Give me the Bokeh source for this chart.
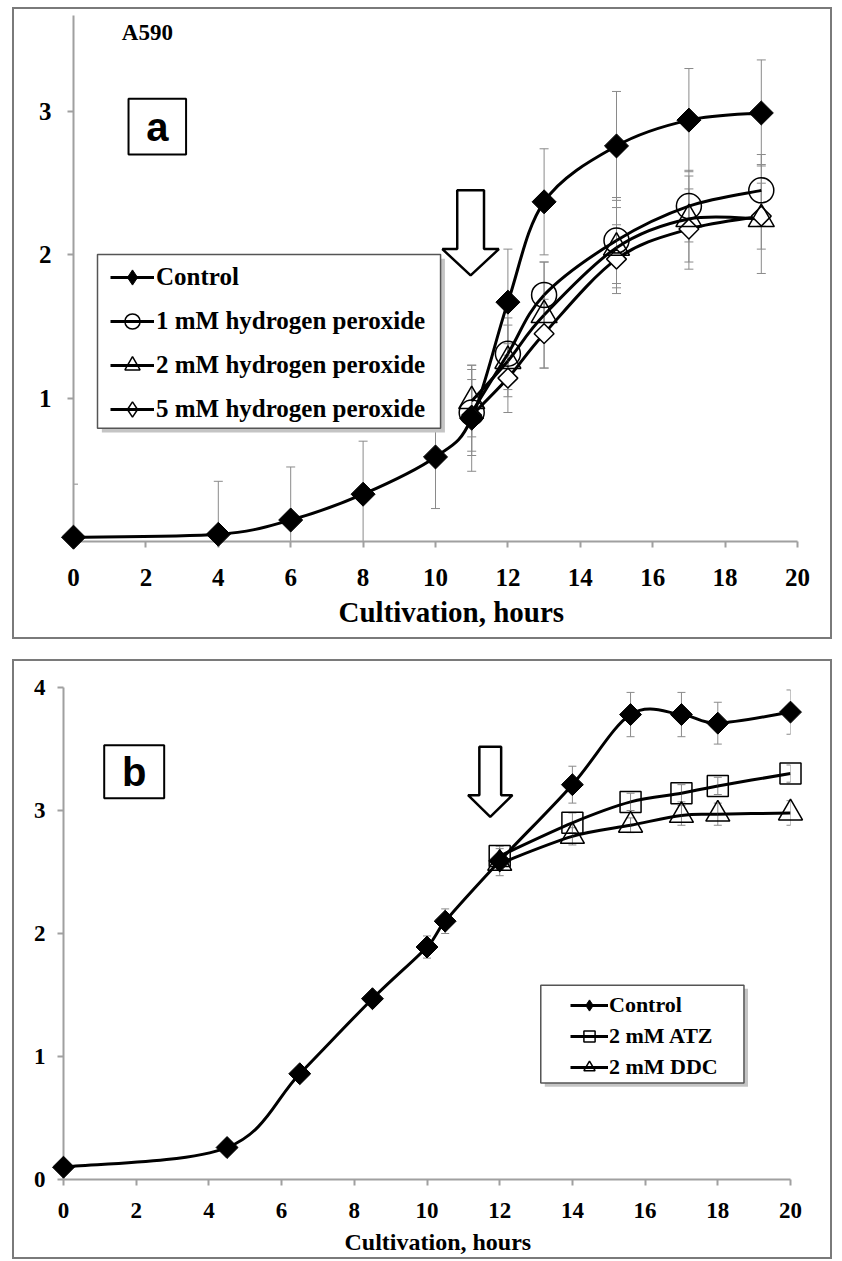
import numpy as np
from bokeh.plotting import figure
from bokeh.models import (Range1d, FixedTicker, Whisker, TeeHead, ColumnDataSource, Title,
                          Legend, LegendItem, BoxAnnotation, Label, PolyAnnotation)
from bokeh.embed import file_html
from bokeh.resources import INLINE

# ---------------- Panel a data ----------------
a_ctrl_x = [0, 4, 6, 8, 10, 11, 12, 13, 15, 17, 19]
a_ctrl_y = [0.03, 0.05, 0.15, 0.33, 0.59, 0.86, 1.67, 2.37, 2.76, 2.94, 2.99]
a_ctrl_err = [0.37, 0.37, 0.37, 0.37, 0.36, 0.37, 0.37, 0.37, 0.38, 0.36, 0.37]
a_trt_x = [11, 12, 13, 15, 17, 19]
a_1mm_y = [0.90, 1.31, 1.72, 2.10, 2.34, 2.45]
a_1mm_err = [0.30, 0.25, 0.23, 0.30, 0.25, 0.25]
a_2mm_y = [0.98, 1.26, 1.58, 2.05, 2.25, 2.25]
a_2mm_err = [0.25, 0.25, 0.37, 0.28, 0.30, 0.38]
a_5mm_y = [0.88, 1.14, 1.45, 1.97, 2.18, 2.27]
a_5mm_err = [0.25, 0.24, 0.24, 0.24, 0.28, 0.23]
a_labels = ["Control", "1 mM hydrogen peroxide", "2 mM hydrogen peroxide", "5 mM hydrogen peroxide"]

# ---------------- Panel b data ----------------
b_ctrl_x = [0, 4.5, 6.5, 8.5, 10, 10.5, 12, 14, 15.6, 17, 18, 20]
b_ctrl_y = [0.10, 0.26, 0.86, 1.47, 1.89, 2.10, 2.59, 3.21, 3.78, 3.78, 3.71, 3.80]
b_ctrl_err = [0.03, 0.04, 0.05, 0.05, 0.09, 0.10, 0.12, 0.15, 0.18, 0.18, 0.17, 0.18]
b_trt_x = [12, 14, 15.6, 17, 18, 20]
b_atz_y = [2.63, 2.90, 3.07, 3.14, 3.20, 3.30]
b_atz_err = [0.06, 0.08, 0.07, 0.07, 0.07, 0.07]
b_ddc_y = [2.57, 2.79, 2.88, 2.96, 2.97, 2.98]
b_ddc_err = [0.05, 0.07, 0.06, 0.08, 0.09, 0.10]
b_labels = ["Control", "2 mM ATZ", "2 mM DDC"]

x_ticks = list(range(0, 21, 2))
x_title = "Cultivation, hours"

SERIF = "Liberation Serif"
AXIS_GRAY = "#a0a0a0"
ERR_GRAY = "#8a8a8a"


def smooth_source(xs, ys):
    """Catmull-Rom (Excel-like smoothing) bezier segments through the data points."""
    x = np.asarray(xs, float)
    y = np.asarray(ys, float)
    n = len(x)
    xp = np.concatenate([[x[0]], x, [x[-1]]])
    yp = np.concatenate([[y[0]], y, [y[-1]]])
    cx0 = x[:-1] + (xp[2:n + 1] - xp[0:n - 1]) / 6.0
    cy0 = y[:-1] + (yp[2:n + 1] - yp[0:n - 1]) / 6.0
    cx1 = x[1:] - (xp[3:n + 2] - xp[1:n]) / 6.0
    cy1 = y[1:] - (yp[3:n + 2] - yp[1:n]) / 6.0
    return ColumnDataSource(dict(x0=x[:-1], y0=y[:-1], x1=x[1:], y1=y[1:],
                                 cx0=cx0, cy0=cy0, cx1=cx1, cy1=cy1))


def smooth_line(p, xs, ys):
    return p.bezier(x0="x0", y0="y0", x1="x1", y1="y1", cx0="cx0", cy0="cy0",
                    cx1="cx1", cy1="cy1", source=smooth_source(xs, ys),
                    line_color="black", line_width=3)


def add_errors(p, xs, ys, errs, cap=9):
    y = np.asarray(ys, float)
    e = np.asarray(errs, float)
    src = ColumnDataSource(dict(x=list(xs), upper=y + e, lower=y - e))
    w = Whisker(base="x", upper="upper", lower="lower", source=src,
                line_color=ERR_GRAY, line_width=1,
                upper_head=TeeHead(size=cap, line_color=ERR_GRAY, line_width=1),
                lower_head=TeeHead(size=cap, line_color=ERR_GRAY, line_width=1))
    p.add_layout(w)


def style_axes(p, tick_size, y_ticks, xl_standoff, yl_standoff):
    p.grid.visible = False
    p.outline_line_color = None
    p.background_fill_color = "white"
    p.border_fill_color = "white"
    p.xaxis.ticker = FixedTicker(ticks=x_ticks)
    p.yaxis.ticker = FixedTicker(ticks=y_ticks)
    for ax in (p.xaxis, p.yaxis):
        ax.axis_line_color = AXIS_GRAY
        ax.axis_line_width = 2
        ax.major_tick_line_color = AXIS_GRAY
        ax.major_tick_line_width = 2
        ax.major_tick_in = 0
        ax.major_tick_out = 6
        ax.minor_tick_line_color = None
        ax.major_label_text_font = SERIF
        ax.major_label_text_font_style = "bold"
        ax.major_label_text_font_size = tick_size
        ax.major_label_text_color = "black"
    p.xaxis.major_label_standoff = xl_standoff
    p.yaxis.major_label_standoff = yl_standoff


def axis_title(p, offset, size, standoff):
    p.add_layout(Title(text=x_title, align="left", offset=offset, standoff=standoff,
                       text_font=SERIF, text_font_style="bold", text_font_size=size,
                       text_color="black"), "below")


def arrow(p, cx, top, neck, tip, head_half, shaft_half):
    xs = [cx - shaft_half, cx + shaft_half, cx + shaft_half, cx + head_half, cx,
          cx - head_half, cx - shaft_half]
    ys = [top, top, neck, neck, tip, neck, neck]
    p.add_layout(PolyAnnotation(xs=xs, ys=ys, fill_color="white", fill_alpha=1,
                                line_color="black", line_alpha=1, line_width=2.5))


def panel_label(p, text, left, right, top, bottom):
    p.add_layout(BoxAnnotation(left=left, right=right, top=top, bottom=bottom,
                               fill_color="white", fill_alpha=1,
                               line_color="black", line_width=2, line_alpha=1))
    p.add_layout(Label(x=(left + right) / 2, y=(top + bottom) / 2, text=text,
                       text_align="center", text_baseline="middle",
                       text_font="Liberation Sans", text_font_style="bold",
                       text_font_size="40px", text_color="black"))


def legend_box(p, left, right, top, bottom, dx, dy):
    p.add_layout(BoxAnnotation(left=left + dx, right=right + dx, top=top - dy, bottom=bottom - dy,
                               fill_color="#c4c4c4", fill_alpha=1, line_color=None))
    p.add_layout(BoxAnnotation(left=left, right=right, top=top, bottom=bottom,
                               fill_color="white", fill_alpha=1,
                               line_color="#555555", line_width=1.5, line_alpha=1))


BORDER = {"border": "2px solid #7a7a7a", "box-sizing": "content-box"}

# ======================= Panel a =======================
pa = figure(width=816, height=628, x_range=Range1d(0, 20), y_range=Range1d(0, 3.67),
            output_backend="svg", toolbar_location=None,
            min_border_left=59, min_border_right=37, min_border_top=6, min_border_bottom=100)
pa.styles = BORDER
pa.margin = (7, 0, 0, 12)
style_axes(pa, "25px", [1, 2, 3], xl_standoff=21, yl_standoff=16)

add_errors(pa, a_ctrl_x, a_ctrl_y, a_ctrl_err)
add_errors(pa, a_trt_x, a_1mm_y, a_1mm_err)
add_errors(pa, a_trt_x, a_2mm_y, a_2mm_err)
add_errors(pa, a_trt_x, a_5mm_y, a_5mm_err)

la_ctrl = smooth_line(pa, a_ctrl_x, a_ctrl_y)
la_1 = smooth_line(pa, a_trt_x, a_1mm_y)
la_2 = smooth_line(pa, a_trt_x, a_2mm_y)
la_5 = smooth_line(pa, a_trt_x, a_5mm_y)

# markers (diamond glyphs used for the legend are hidden below the rotated squares)
sa_5_leg = pa.scatter(a_trt_x, a_5mm_y, marker="diamond", size=14, fill_alpha=0,
                      line_color="black", line_width=1.5, level="overlay")
sa_5 = pa.scatter(a_trt_x, a_5mm_y, marker="square", angle=np.pi / 4, size=14,
                  fill_color="white", line_color="black", line_width=1.5, level="overlay")
sa_2 = pa.scatter(a_trt_x, a_2mm_y, marker="triangle", size=26, fill_alpha=0,
                  line_color="black", line_width=1.5, level="overlay")
sa_1 = pa.scatter(a_trt_x, a_1mm_y, marker="circle", size=25, fill_alpha=0,
                  line_color="black", line_width=1.5, level="overlay")
sa_ctrl_leg = pa.scatter(a_ctrl_x, a_ctrl_y, marker="diamond", size=16, fill_color="black",
                         line_color="black", level="overlay")
sa_ctrl = pa.scatter(a_ctrl_x, a_ctrl_y, marker="square", angle=np.pi / 4, size=17,
                     fill_color="black", line_color="black", level="overlay")

arrow(pa, cx=10.97, top=2.45, neck=2.04, tip=1.857, head_half=0.78, shaft_half=0.37)
panel_label(pa, "a", left=1.52, right=3.11, top=3.09, bottom=2.70)
pa.add_layout(Label(x=2.04, y=3.553, text="A590", text_align="center", text_baseline="middle",
                    text_font=SERIF, text_font_style="bold", text_font_size="23px",
                    text_color="black"))
axis_title(pa, 265, "29px", 10)

legend_box(pa, left=0.663, right=10.14, top=2.003, bottom=0.791, dx=0.12, dy=0.03)
leg_a = Legend(items=[LegendItem(label=a_labels[0], renderers=[la_ctrl, sa_ctrl_leg]),
                      LegendItem(label=a_labels[1], renderers=[la_1, sa_1]),
                      LegendItem(label=a_labels[2], renderers=[la_2, sa_2]),
                      LegendItem(label=a_labels[3], renderers=[la_5, sa_5_leg])],
               location=(32, 108), margin=0, padding=5, spacing=6,
               glyph_width=44, glyph_height=38, label_standoff=2,
               label_text_font=SERIF, label_text_font_style="bold",
               label_text_font_size="25px", label_text_color="black",
               border_line_alpha=0, background_fill_alpha=0)
pa.add_layout(leg_a, "center")

# ======================= Panel b =======================
pb = figure(width=816, height=596, x_range=Range1d(0, 20), y_range=Range1d(0, 4),
            output_backend="svg", toolbar_location=None,
            min_border_left=49, min_border_right=44, min_border_top=26, min_border_bottom=82)
pb.styles = BORDER
pb.margin = (20, 0, 0, 12)
style_axes(pb, "23px", [0, 1, 2, 3, 4], xl_standoff=17, yl_standoff=12)

add_errors(pb, b_ctrl_x, b_ctrl_y, b_ctrl_err, cap=8)
add_errors(pb, b_trt_x, b_atz_y, b_atz_err, cap=8)
add_errors(pb, b_trt_x, b_ddc_y, b_ddc_err, cap=8)

lb_ctrl = smooth_line(pb, b_ctrl_x, b_ctrl_y)
lb_atz = smooth_line(pb, b_trt_x, b_atz_y)
lb_ddc = smooth_line(pb, b_trt_x, b_ddc_y)

sb_ddc = pb.scatter(b_trt_x, b_ddc_y, marker="triangle", size=24, fill_alpha=0,
                    line_color="black", line_width=1.5, level="overlay")
sb_atz = pb.scatter(b_trt_x, b_atz_y, marker="square", size=21, fill_alpha=0,
                    line_color="black", line_width=1.5, level="overlay")
sb_ctrl_leg = pb.scatter(b_ctrl_x, b_ctrl_y, marker="diamond", size=14, fill_color="black",
                         line_color="black", level="overlay")
sb_ctrl = pb.scatter(b_ctrl_x, b_ctrl_y, marker="square", angle=np.pi / 4, size=15.5,
                     fill_color="black", line_color="black", level="overlay")

arrow(pb, cx=11.74, top=3.518, neck=3.125, tip=2.949, head_half=0.61, shaft_half=0.30)
panel_label(pb, "b", left=1.12, right=2.77, top=3.53, bottom=3.10)
axis_title(pb, 281, "24px", 12)

legend_box(pb, left=13.13, right=18.72, top=1.580, bottom=0.784, dx=0.11, dy=0.03)
leg_b = Legend(items=[LegendItem(label=b_labels[0], renderers=[lb_ctrl, sb_ctrl_leg]),
                      LegendItem(label=b_labels[1], renderers=[lb_atz, sb_atz]),
                      LegendItem(label=b_labels[2], renderers=[lb_ddc, sb_ddc])],
               location=(502, 93), margin=0, padding=5, spacing=3,
               glyph_width=38, glyph_height=28, label_standoff=1,
               label_text_font=SERIF, label_text_font_style="bold",
               label_text_font_size="22px", label_text_color="black",
               border_line_alpha=0, background_fill_alpha=0)
pb.add_layout(leg_b, "center")

open("out.html", "w").write(file_html([pa, pb], INLINE))
